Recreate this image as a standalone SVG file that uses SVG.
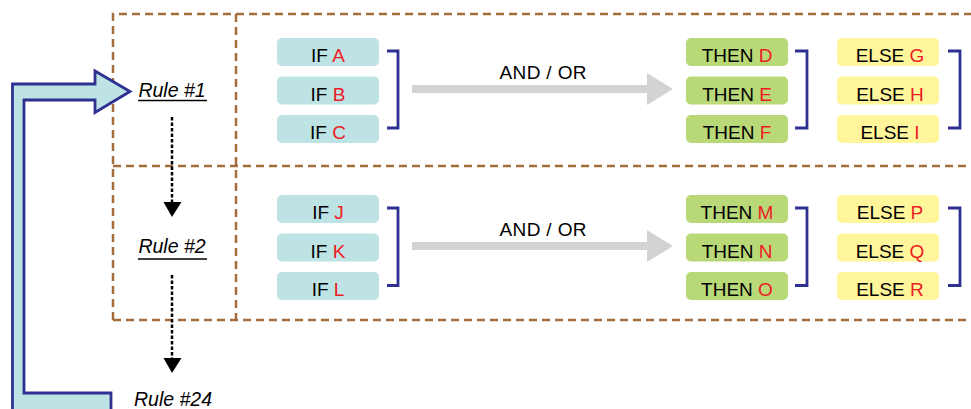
<svg xmlns="http://www.w3.org/2000/svg" width="971" height="409" viewBox="0 0 971 409">
<defs>
<style>
.dash{fill:none;stroke:#a36d3c;stroke-width:2.5;stroke-dasharray:8 5}
.ifb{fill:#bde3e4}
.thb{fill:#b9d878}
.elb{fill:#fff59b}
.t{font-family:"Liberation Sans",Arial,sans-serif;font-size:19px;fill:#000;text-anchor:middle}
.r{fill:#ed1c24}
.br{fill:none;stroke:#2e3192;stroke-width:2.8}
.rule{font-family:"Liberation Sans",Arial,sans-serif;font-size:19.5px;font-style:italic;fill:#000;text-anchor:middle}
.ul{stroke:#000;stroke-width:1.6}
.dot{stroke:#000;stroke-width:2.5;stroke-dasharray:3.5 2;fill:none}
.gray{fill:#d1d3d4}
</style>
</defs>
<rect width="971" height="409" fill="#fff"/>
<g id="frame">
<path class="dash" d="M113,320 L113,14 L975,14"/>
<path class="dash" d="M113,320 L975,320"/>
<path class="dash" d="M113,166 L975,166"/>
<path class="dash" d="M236,14 L236,320"/>
</g>
<g id="loop-arrow">
<path d="M111,412 L111,393 L24,393 L24,100 L95,100 L95,112.5 L130,91.5 L95,71 L95,84 L12.5,84 L12.5,412 Z" fill="#bde3e4" stroke="#2e3192" stroke-width="2.8" stroke-linejoin="miter"/>
</g>
<g id="rule1">
<text class="rule" x="172" y="97">Rule #1</text>
<line class="ul" x1="138" y1="100.5" x2="207" y2="100.5"/>
</g>
<g id="rule2">
<text class="rule" x="172" y="253">Rule #2</text>
<line class="ul" x1="138" y1="259" x2="207" y2="259"/>
</g>
<g id="rule24">
<text class="rule" x="173" y="406">Rule #24</text>
</g>
<g id="connectors">
<line class="dot" x1="172" y1="117" x2="172" y2="203"/>
<polygon points="163.5,202 181.5,202 172,217" fill="#000"/>
<line class="dot" x1="172" y1="275" x2="172" y2="359"/>
<polygon points="163.5,358 181.5,358 172,373" fill="#000"/>
</g>
<g id="row1-if">
<rect class="ifb" x="277" y="38" width="102" height="28" rx="5"/>
<rect class="ifb" x="277" y="76.5" width="102" height="28" rx="5"/>
<rect class="ifb" x="277" y="115" width="102" height="28" rx="5"/>
<text class="t" x="328" y="62">IF <tspan class="r">A</tspan></text>
<text class="t" x="328" y="100.5">IF <tspan class="r">B</tspan></text>
<text class="t" x="328" y="139">IF <tspan class="r">C</tspan></text>
<path class="br" d="M387,51 L398,51 L398,128 L387,128"/>
</g>
<g id="row1-andor">
<path class="gray" d="M412,85 L647,85 L647,73 L673,89 L647,105 L647,93 L412,93 Z"/>
<text class="t" x="543" y="79" textLength="87" lengthAdjust="spacing">AND / OR</text>
</g>
<g id="row1-then">
<rect class="thb" x="686" y="38" width="102" height="28" rx="5"/>
<rect class="thb" x="686" y="76.5" width="102" height="28" rx="5"/>
<rect class="thb" x="686" y="115" width="102" height="28" rx="5"/>
<text class="t" x="737" y="62">THEN <tspan class="r">D</tspan></text>
<text class="t" x="737" y="100.5">THEN <tspan class="r">E</tspan></text>
<text class="t" x="737" y="139">THEN <tspan class="r">F</tspan></text>
<path class="br" d="M795,51 L807,51 L807,128 L795,128"/>
</g>
<g id="row1-else">
<rect class="elb" x="837" y="38" width="102" height="28" rx="5"/>
<rect class="elb" x="837" y="76.5" width="102" height="28" rx="5"/>
<rect class="elb" x="837" y="115" width="102" height="28" rx="5"/>
<text class="t" x="890" y="62">ELSE <tspan class="r">G</tspan></text>
<text class="t" x="890" y="100.5">ELSE <tspan class="r">H</tspan></text>
<text class="t" x="890" y="139">ELSE <tspan class="r">I</tspan></text>
<path class="br" d="M948,51 L960,51 L960,128 L948,128"/>
</g>
<g id="row2-if">
<rect class="ifb" x="277" y="195" width="102" height="28" rx="5"/>
<rect class="ifb" x="277" y="233.5" width="102" height="28" rx="5"/>
<rect class="ifb" x="277" y="272" width="102" height="28" rx="5"/>
<text class="t" x="328" y="219">IF <tspan class="r">J</tspan></text>
<text class="t" x="328" y="257.5">IF <tspan class="r">K</tspan></text>
<text class="t" x="328" y="296">IF <tspan class="r">L</tspan></text>
<path class="br" d="M387,208 L398,208 L398,285.5 L387,285.5"/>
</g>
<g id="row2-andor">
<path class="gray" d="M412,242 L647,242 L647,230 L673,246 L647,262 L647,250 L412,250 Z"/>
<text class="t" x="543" y="236" textLength="87" lengthAdjust="spacing">AND / OR</text>
</g>
<g id="row2-then">
<rect class="thb" x="686" y="195" width="102" height="28" rx="5"/>
<rect class="thb" x="686" y="233.5" width="102" height="28" rx="5"/>
<rect class="thb" x="686" y="272" width="102" height="28" rx="5"/>
<text class="t" x="737" y="219">THEN <tspan class="r">M</tspan></text>
<text class="t" x="737" y="257.5">THEN <tspan class="r">N</tspan></text>
<text class="t" x="737" y="296">THEN <tspan class="r">O</tspan></text>
<path class="br" d="M795,208 L807,208 L807,285.5 L795,285.5"/>
</g>
<g id="row2-else">
<rect class="elb" x="837" y="195" width="102" height="28" rx="5"/>
<rect class="elb" x="837" y="233.5" width="102" height="28" rx="5"/>
<rect class="elb" x="837" y="272" width="102" height="28" rx="5"/>
<text class="t" x="890" y="219">ELSE <tspan class="r">P</tspan></text>
<text class="t" x="890" y="257.5">ELSE <tspan class="r">Q</tspan></text>
<text class="t" x="890" y="296">ELSE <tspan class="r">R</tspan></text>
<path class="br" d="M948,208 L960,208 L960,285.5 L948,285.5"/>
</g>
</svg>
